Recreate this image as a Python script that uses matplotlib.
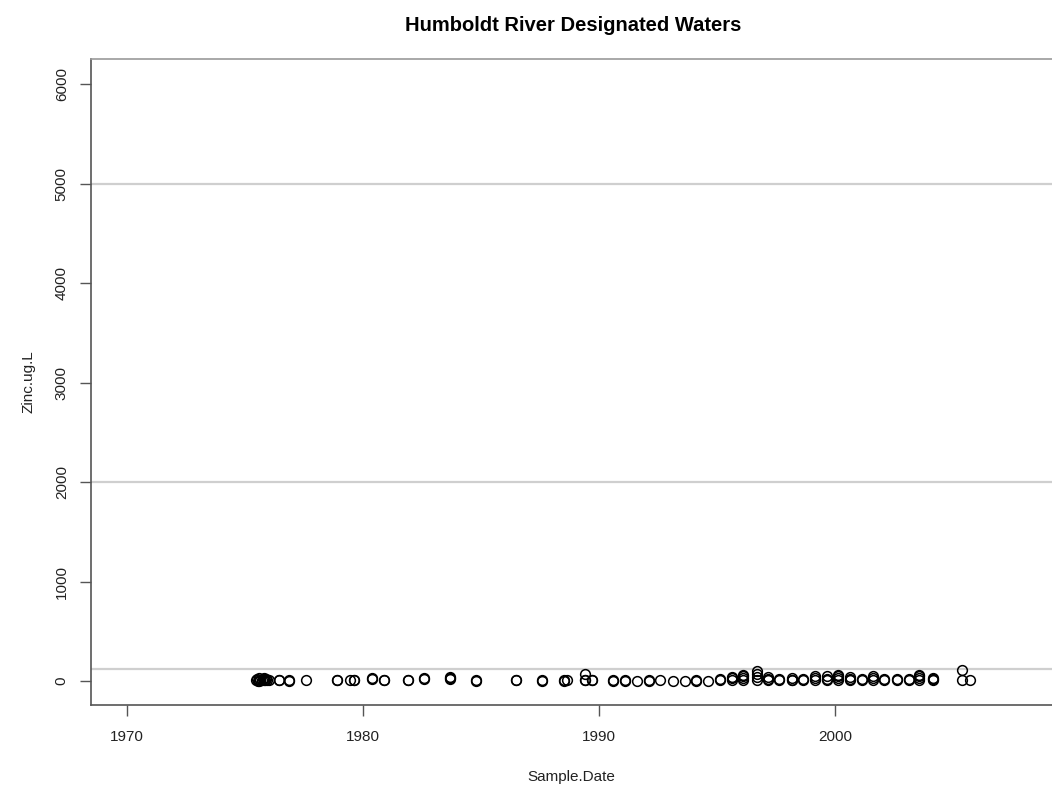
import numpy as np
import matplotlib.pyplot as plt

plt.rcParams['font.family'] = ['Liberation Sans', 'DejaVu Sans']

# decimal year of each sample and zinc concentration (ug/L)
sample_date = [
    1975.45, 1975.5, 1975.55, 1975.6, 1975.65, 1975.7, 1975.75, 1975.8,
    1975.85, 1975.9, 1975.95, 1976.0, 1975.6, 1975.8,
    1976.45, 1976.45, 1976.85, 1976.85, 1977.6,
    1978.9, 1978.9, 1979.45, 1979.6, 1979.6,
    1980.4, 1980.4, 1980.9, 1980.9, 1981.9, 1981.9, 1982.6, 1982.6,
    1983.7, 1983.7, 1983.7, 1984.8, 1984.8, 1986.5, 1986.5,
    1987.6, 1987.6, 1988.5, 1988.5, 1988.65,
    1989.4, 1989.4, 1989.4, 1989.7, 1989.7,
    1990.6, 1990.6, 1991.1, 1991.1, 1991.6, 1992.1, 1992.1, 1992.6, 1993.15,
    1993.65, 1994.1, 1994.1, 1994.6, 1995.15, 1995.15,
    1995.65, 1995.65, 1995.65, 1996.1, 1996.1, 1996.1, 1996.1,
    1996.7, 1996.7, 1996.7, 1996.7, 1997.15, 1997.15, 1997.15,
    1997.65, 1997.65, 1998.2, 1998.2, 1998.2, 1998.65, 1998.65,
    1999.15, 1999.15, 1999.15, 1999.65, 1999.65, 1999.65,
    2000.15, 2000.15, 2000.15, 2000.15, 2000.65, 2000.65, 2000.65,
    2001.15, 2001.15, 2001.6, 2001.6, 2001.6, 2002.1, 2002.1,
    2002.65, 2002.65, 2003.15, 2003.15, 2003.55, 2003.55, 2003.55, 2003.55,
    2004.15, 2004.15, 2004.15, 2005.4, 2005.4, 2005.72,
]
zinc_ugL = [
    10, 20, 5, 30, 15, 10, 25, 8,
    12, 20, 10, 15, 5, 30,
    10, 15, 5, 10, 10,
    10, 15, 10, 10, 15,
    35, 25, 10, 15, 10, 15, 30, 25,
    40, 30, 20, 5, 10, 10, 15,
    5, 10, 10, 5, 10,
    70, 10, 15, 10, 15,
    5, 10, 5, 10, 5, 10, 5, 10, 5,
    5, 5, 10, 5, 10, 20,
    10, 30, 45, 10, 30, 55, 60,
    10, 40, 70, 100, 10, 25, 45,
    10, 20, 10, 30, 15, 10, 20,
    10, 35, 50, 10, 25, 55,
    10, 30, 50, 65, 10, 25, 40,
    10, 20, 10, 30, 50, 10, 20,
    10, 20, 10, 20, 10, 30, 50, 60,
    10, 20, 30, 10, 110, 10,
]
# reference lines drawn across the plot
standard_lines = [120, 2000, 5000]
year_ticks = [1970, 1980, 1990, 2000]
zinc_ticks = [0, 1000, 2000, 3000, 4000, 5000, 6000]

fig = plt.figure(figsize=(10.52, 7.87), dpi=100)
ax = fig.add_axes([0.0865, 0.1042, 0.9135, 0.8208])

for level in standard_lines:
    ax.axhline(level, color='#cfcfcf', linewidth=1.6, zorder=1)

ax.plot(sample_date, zinc_ugL, 'o', markerfacecolor='none',
        markeredgecolor='black', markersize=7.0, markeredgewidth=1.1, zorder=3)

ax.set_xlim(1968.47, 2009.2)
ax.set_ylim(-241, 6251)
ax.set_xticks(year_ticks)
ax.set_yticks(zinc_ticks)
ax.set_yticklabels([str(t) for t in zinc_ticks], rotation=90, va='center')
ax.tick_params(axis='both', direction='out', length=8, width=1.0,
               color='#555555', labelsize=11, labelcolor='#222222')
ax.tick_params(axis='x', pad=10)
ax.tick_params(axis='y', pad=8)

ax.spines['right'].set_visible(False)
ax.spines['top'].set_color('#999999')
ax.spines['top'].set_linewidth(1.2)
ax.spines['left'].set_color('#555555')
ax.spines['bottom'].set_color('#555555')
ax.spines['left'].set_linewidth(1.2)
ax.spines['bottom'].set_linewidth(1.2)

ax.set_xlabel('Sample.Date', fontsize=11, labelpad=19, color='#222222')
ax.set_ylabel('Zinc.ug.L', fontsize=11, labelpad=14, color='#222222')
fig.suptitle('Humboldt River Designated Waters', fontsize=14.5, fontweight='bold',
             x=0.545, y=0.98)

fig.savefig('out.png', dpi=100)
